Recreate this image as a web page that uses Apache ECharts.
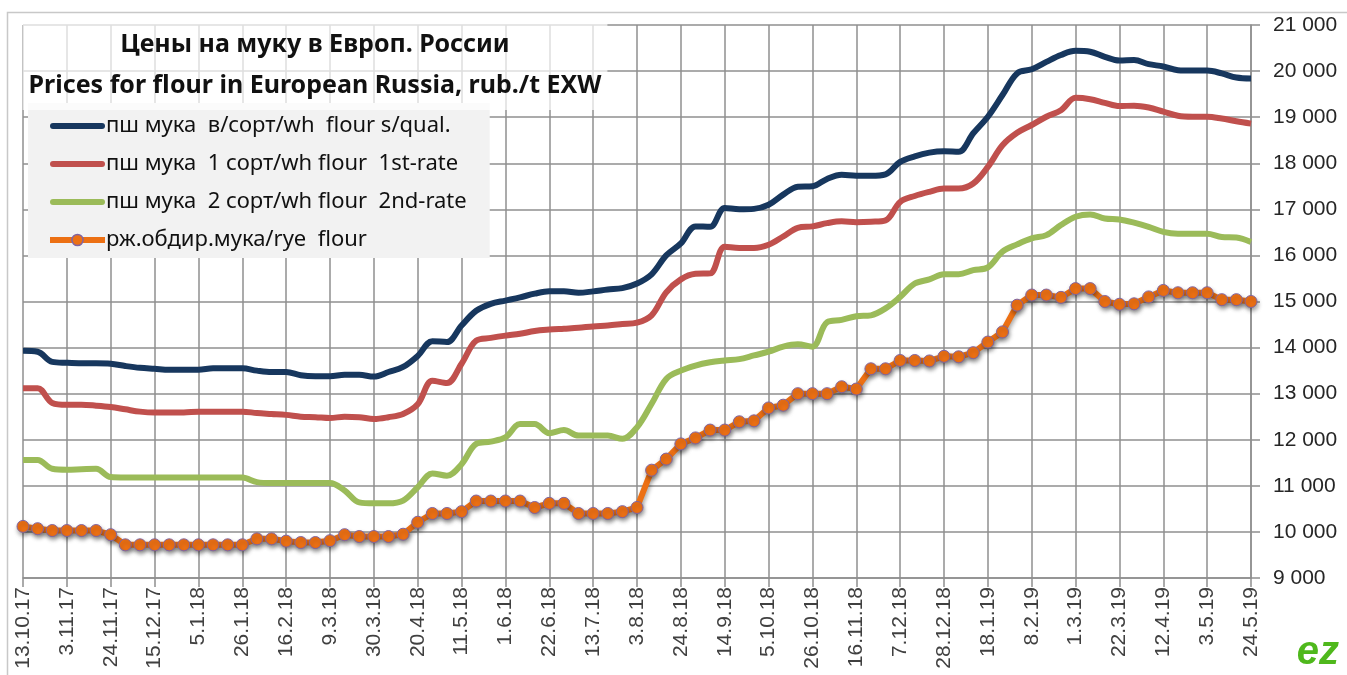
<!DOCTYPE html>
<html>
<head>
<meta charset="utf-8">
<script src="https://cdn.jsdelivr.net/npm/echarts@6/dist/echarts.min.js"></script>
<style>
  html, body { margin: 0; padding: 0; background: #fff; }
  #main { width: 1347px; height: 675px; }
</style>
</head>
<body>
<div id="main"></div>
<script>
var weeks = [
  '13.10.17','20.10.17','27.10.17','3.11.17','10.11.17','17.11.17','24.11.17','1.12.17','8.12.17','15.12.17','22.12.17','29.12.17',
  '5.1.18','12.1.18','19.1.18','26.1.18','2.2.18','9.2.18','16.2.18','23.2.18','2.3.18','9.3.18','16.3.18','23.3.18','30.3.18',
  '6.4.18','13.4.18','20.4.18','27.4.18','4.5.18','11.5.18','18.5.18','25.5.18','1.6.18','8.6.18','15.6.18','22.6.18',
  '29.6.18','6.7.18','13.7.18','20.7.18','27.7.18','3.8.18','10.8.18','17.8.18','24.8.18','31.8.18','7.9.18','14.9.18',
  '21.9.18','28.9.18','5.10.18','12.10.18','19.10.18','26.10.18','2.11.18','9.11.18','16.11.18','23.11.18','30.11.18','7.12.18',
  '14.12.18','21.12.18','28.12.18','4.1.19','11.1.19','18.1.19','25.1.19','1.2.19','8.2.19','15.2.19','22.2.19','1.3.19',
  '8.3.19','15.3.19','22.3.19','29.3.19','5.4.19','12.4.19','19.4.19','26.4.19','3.5.19','10.5.19','17.5.19','24.5.19'
];

// пш мука в/сорт
var flourTop = [
  13930,13910,13690,13670,13660,13660,13650,13600,13560,13540,
  13520,13520,13520,13550,13550,13550,13500,13470,13470,13400,
  13380,13380,13410,13410,13370,13470,13580,13820,14140,14120,
  14480,14800,14950,15020,15090,15170,15220,15220,15190,15220,
  15260,15290,15390,15590,16000,16260,16630,16620,17030,17000,
  17010,17100,17320,17490,17500,17660,17750,17730,17730,17760,
  18030,18150,18230,18260,18250,18650,19010,19480,19950,20040,
  20200,20350,20440,20420,20310,20230,20240,20150,20100,20020,
  20010,20010,19950,19860,19840
];

// пш мука 1 сорт
var flour1st = [
  13120,13120,12800,12760,12760,12740,12710,12660,12610,12590,
  12590,12590,12610,12610,12610,12610,12580,12560,12540,12500,
  12490,12470,12500,12490,12450,12490,12560,12770,13280,13230,
  13650,14150,14210,14260,14300,14360,14390,14410,14430,14460,
  14480,14510,14540,14700,15200,15480,15600,15610,16190,16160,
  16160,16230,16410,16600,16630,16700,16740,16720,16730,16760,
  17160,17290,17380,17450,17450,17560,17920,18390,18660,18830,
  19010,19150,19420,19390,19310,19240,19250,19210,19120,19030,
  19010,19010,18970,18910,18860
];

// пш мука 2 сорт
var flour2nd = [
  11560,11560,11370,11350,11360,11370,11190,11180,11180,11180,
  11180,11180,11180,11180,11180,11180,11080,11060,11060,11060,
  11060,11060,10900,10640,10620,10620,10680,10970,11270,11220,
  11470,11910,11960,12050,12340,12340,12140,12210,12090,12090,
  12090,12020,12270,12780,13320,13500,13610,13680,13720,13750,
  13830,13910,14020,14070,14020,14550,14600,14680,14700,14850,
  15100,15390,15480,15590,15590,15680,15740,16080,16240,16370,
  16440,16660,16840,16890,16800,16780,16710,16620,16510,16470,
  16470,16470,16400,16390,16290
];

// рж. обдир. мука
var ryeFlour = [
  10120,10070,10030,10030,10030,10030,9940,9720,9720,9720,
  9720,9720,9720,9720,9720,9720,9850,9850,9800,9770,
  9770,9810,9940,9900,9900,9900,9950,10210,10400,10400,
  10440,10670,10670,10670,10670,10530,10620,10620,10400,10400,
  10400,10440,10530,11340,11580,11910,12040,12210,12210,12390,
  12410,12690,12750,13000,13000,13000,13150,13100,13540,13540,
  13720,13720,13710,13810,13800,13890,14120,14340,14920,15140,
  15140,15090,15280,15280,15000,14940,14950,15100,15240,15190,
  15190,15190,15040,15040,15000
];

var seriesNames = [
  'пш мука  в/сорт/wh  flour s/qual.',
  'пш мука  1 сорт/wh flour  1st-rate',
  'пш мука  2 сорт/wh flour  2nd-rate',
  'рж.обдир.мука/rye  flour'
];

var gridColor = '#8f8f8f';
var sans = "'Noto Sans', 'Liberation Sans', sans-serif";
// legend stroke: a flat bar with rounded ends
var barIcon = 'path://M3,0 L52,0 A3,3 0 0 1 52,6 L3,6 A3,3 0 0 1 3,0 Z';

var dom = document.getElementById('main');
var myChart = echarts.init(dom);

function spaced(v) {
  return String(v).replace(/\B(?=(\d{3})+(?!\d))/g, ' ');
}

var option = {
  backgroundColor: '#fff',
  animation: false,
  graphic: [
    {
      type: 'rect', z: 0, silent: true,
      shape: { x: 7.5, y: 12.5, width: 1360, height: 700 },
      style: { fill: 'none', stroke: '#c8c8c8', lineWidth: 1.5 }
    },
    {
      type: 'text', right: 8, bottom: 2, z: 20,
      style: { text: 'ez', fill: '#4fb81c', font: 'italic bold 40px "Liberation Sans"' }
    }
  ],
  title: {
    text: 'Цены на муку в Европ. России\nPrices for flour in European Russia, rub./t EXW',
    left: 309,
    top: 20,
    textAlign: 'center',
    backgroundColor: 'rgba(255,255,255,0.7)',
    padding: [4, 6, 4, 6],
    textStyle: {
      fontFamily: sans,
      fontWeight: 'bold',
      fontSize: 25,
      lineHeight: 41,
      color: '#111'
    }
  },
  legend: {
    orient: 'vertical',
    left: 28,
    top: 103,
    backgroundColor: '#f2f2f2',
    padding: [11, 23, 6, 19],
    itemWidth: 55,
    itemHeight: 14,
    itemGap: 14,
    textStyle: {
      fontFamily: sans,
      fontSize: 22,
      lineHeight: 24,
      color: '#111',
      padding: [0, 0, 0, -4]
    },
    data: [
      { name: seriesNames[0], icon: barIcon },
      { name: seriesNames[1], icon: barIcon },
      { name: seriesNames[2], icon: barIcon },
      {
        name: seriesNames[3],
        lineStyle: { width: 6 },
        itemStyle: { borderColor: '#8064a2', borderWidth: 1.5 }
      }
    ]
  },
  grid: {
    left: 23,
    right: 96,
    top: 25,
    bottom: 97
  },
  xAxis: {
    type: 'category',
    boundaryGap: false,
    data: weeks,
    axisLine: { lineStyle: { color: gridColor, width: 1.5 } },
    axisTick: { interval: 2, length: 9, lineStyle: { color: gridColor, width: 1.5 } },
    axisLabel: {
      interval: 2,
      rotate: 90,
      margin: 9,
      fontFamily: "'Liberation Sans', Arial, sans-serif",
      fontSize: 21,
      color: '#404040'
    },
    splitLine: { show: true, interval: 2, lineStyle: { color: gridColor, width: 1.5 } }
  },
  yAxis: {
    type: 'value',
    position: 'right',
    min: 9000,
    max: 21000,
    interval: 1000,
    axisLine: { show: true, lineStyle: { color: gridColor, width: 1.5 } },
    axisTick: { show: true, length: 9, lineStyle: { color: gridColor, width: 1.5 } },
    axisLabel: {
      margin: 22,
      fontFamily: "'Liberation Sans', Arial, sans-serif",
      fontSize: 21,
      color: '#262626',
      formatter: spaced
    },
    splitLine: { show: true, lineStyle: { color: gridColor, width: 1.5 } }
  },
  series: [
    {
      name: seriesNames[0],
      type: 'line',
      smooth: 0.35,
      symbol: 'none',
      data: flourTop,
      itemStyle: { color: '#17375e' },
      lineStyle: { color: '#17375e', width: 6 },
      z: 4
    },
    {
      name: seriesNames[1],
      type: 'line',
      smooth: 0.35,
      symbol: 'none',
      data: flour1st,
      itemStyle: { color: '#c0504d' },
      lineStyle: { color: '#c0504d', width: 6 },
      z: 3
    },
    {
      name: seriesNames[2],
      type: 'line',
      smooth: 0.35,
      symbol: 'none',
      data: flour2nd,
      itemStyle: { color: '#9bbb59' },
      lineStyle: { color: '#9bbb59', width: 6 },
      z: 3
    },
    {
      name: seriesNames[3],
      type: 'line',
      symbol: 'circle',
      symbolSize: 12,
      showAllSymbol: true,
      data: ryeFlour,
      itemStyle: {
        color: '#ec7014',
        borderColor: '#8064a2',
        borderWidth: 1,
        shadowColor: 'rgba(0,0,0,0.35)',
        shadowBlur: 4,
        shadowOffsetX: 1,
        shadowOffsetY: 3
      },
      lineStyle: {
        color: '#ec7014',
        width: 6,
        shadowColor: 'rgba(0,0,0,0.35)',
        shadowBlur: 4,
        shadowOffsetX: 1,
        shadowOffsetY: 3
      },
      z: 5
    }
  ]
};

if (option && typeof option === 'object') {
  myChart.setOption(option, true);
}
</script>
</body>
</html>
